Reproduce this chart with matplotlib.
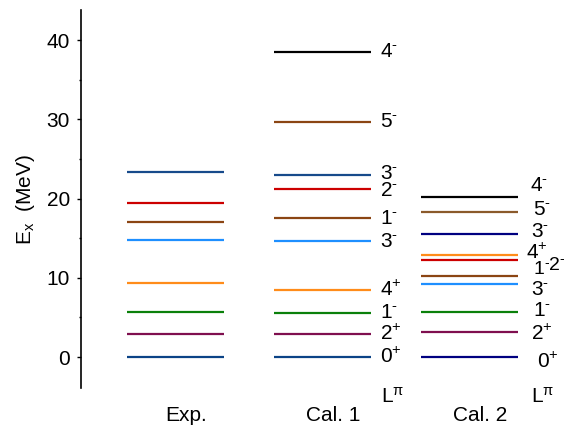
import matplotlib.pyplot as plt
from matplotlib.ticker import MultipleLocator

plt.rcParams['font.family'] = ['Liberation Sans', 'DejaVu Sans']
plt.rcParams['mathtext.fontset'] = 'custom'
plt.rcParams['mathtext.rm'] = 'Liberation Sans'
plt.rcParams['mathtext.it'] = 'Liberation Sans:italic'

# level energies (MeV) and spin-parity
exp_E = [0, 2.9, 5.7, 9.4, 14.8, 17.1, 19.5, 23.3]
exp_colors = ['#0b4386', '#7f0f4f', '#0a800a', '#ff8c1a', '#1e8fff',
              '#8b4513', '#cc0000', '#174a8b']

cal1_E = [0, 2.9, 5.6, 8.45, 14.6, 17.5, 21.2, 23.0, 29.7, 38.5]
cal1_L = ['0+', '2+', '1-', '4+', '3-', '1-', '2-', '3-', '5-', '4-']
cal1_colors = ['#0b4386', '#7f0f4f', '#0a800a', '#ff8c1a', '#1e8fff',
               '#8b4513', '#cc0000', '#174a8b', '#8b4513', '#000000']

cal2_E = [0, 3.2, 5.7, 9.2, 10.2, 12.2, 12.9, 15.5, 18.3, 20.2]
cal2_L = ['0+', '2+', '1-', '3-', '1-', '2-', '4+', '3-', '5-', '4-']
cal2_colors = ['#000080', '#7f0f4f', '#0a800a', '#1e8fff', '#8b4513',
               '#cc0000', '#ff8c1a', '#000080', '#8b5a2b', '#000000']

columns = ['Exp.', 'Cal. 1', 'Cal. 2']

# label placement (layout only)
cal1_lab_y = [0, 2.9, 5.6, 8.45, 14.6, 17.5, 21.0, 23.2, 29.7, 38.5]
cal2_lab_y = [-0.6, 2.9, 5.9, 8.5, 11.0, 11.5, 13.1, 15.8, 18.6, 21.7]
cal2_lab_x = [2.46, 2.42, 2.43, 2.42, 2.43, 2.535, 2.385, 2.42, 2.43, 2.41]
cal2_lab_fs = [15, 15, 15, 15, 14, 14, 15, 15, 15, 15]


def spin(lab):
    # superscript parity drawn as text so '-' stays a short dash
    return r'$\mathrm{%s}^{\text{%s}}$' % (lab[0], lab[1])


fig = plt.figure(figsize=(5.66, 4.30), dpi=100)
ax = fig.add_axes([81 / 566, 42 / 430, 485 / 566, 378 / 430])

hw = 0.33
for i, (E, cols) in enumerate([(exp_E, exp_colors), (cal1_E, cal1_colors), (cal2_E, cal2_colors)]):
    for e, c in zip(E, cols):
        ax.plot([i - hw, i + hw], [e, e], color=c, lw=1.6, solid_capstyle='butt')

for y, lab in zip(cal1_lab_y, cal1_L):
    ax.text(1.39, y, spin(lab), fontsize=15, va='center', ha='left')
for x, y, lab, fs in zip(cal2_lab_x, cal2_lab_y, cal2_L, cal2_lab_fs):
    ax.text(x, y, spin(lab), fontsize=fs, va='center', ha='left', clip_on=False)

ax.text(1.40, -5.0, r'$\mathrm{L}^{\text{π}}$', fontsize=15, va='center', ha='left', clip_on=False)
ax.text(2.42, -5.0, r'$\mathrm{L}^{\text{π}}$', fontsize=15, va='center', ha='left', clip_on=False)

for i, name in enumerate(columns):
    ax.text(i + 0.07, -7.4, name, fontsize=15, ha='center', va='center', clip_on=False)

ax.set_xlim(-0.643, 2.656)
ax.set_ylim(-3.9, 43.8)
ax.yaxis.set_major_locator(MultipleLocator(10))
ax.yaxis.set_minor_locator(MultipleLocator(5))
ax.tick_params(axis='y', which='major', length=3, width=1, labelsize=15, pad=5)
ax.tick_params(axis='y', which='minor', length=1.5, width=1)
ax.set_xticks([])
for s in ['top', 'right', 'bottom']:
    ax.spines[s].set_visible(False)
ax.spines['left'].set_linewidth(1.2)

ax.set_ylabel(r'$\mathrm{E_x}$  (MeV)', fontsize=15)
ax.yaxis.set_label_coords(-0.09, 0.5)

fig.savefig('out.png', dpi=100)
